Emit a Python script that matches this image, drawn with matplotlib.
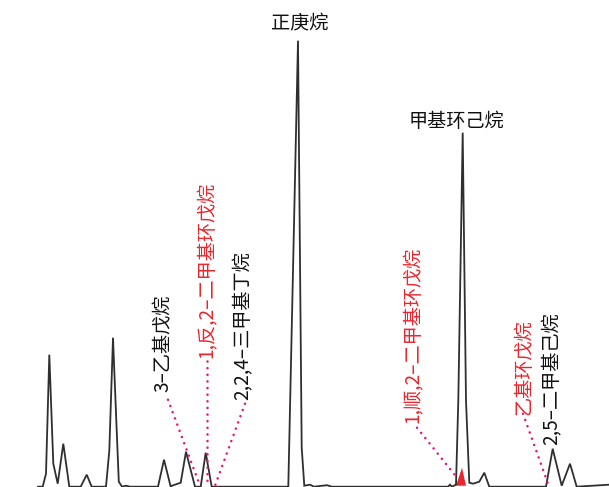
import matplotlib
matplotlib.use("Agg")
import matplotlib.pyplot as plt
import numpy as np

plt.rcParams['font.family'] = ['Noto Sans CJK SC', 'DejaVu Sans']

# Chromatogram trace: retention position and detector signal
rt = [38, 42.7, 46, 49.3, 53.3, 57.7, 63.3, 69.3, 80.7, 86.7, 91.7,
      106, 109.3, 113, 116.3, 118.8, 122, 126, 130,
      158, 164, 170.7, 172, 180.7, 186, 195, 200.7, 205.7, 211.7,
      288.3, 298, 301.7, 304.3, 310, 314, 327, 332,
      448, 450, 452, 456, 458.3, 462.7, 466, 469.3, 473, 479.3, 484.3, 489.3,
      546, 552.7, 561.7, 570, 576.7, 609]
signal = [0, 0, 13, 132, 23, 3, 43, 0, 0, 12, 0,
          0, 36, 149, 66, 5, 0, 1, 0,
          0, 27, 0, 1, 4, 35, 0, 0, 34, 0,
          0, 446, 39, 1, 2, 0, 1.5, 0,
          0, 2, 0, 2, 86, 354, 86, 4, 3, 5, 14, 0,
          0, 38, 1, 23, 0, 2]

# Peak hidden beneath methylcyclohexane
hidden_rt = [456, 462, 466]
hidden_signal = [1, 19, 1]

# Compound labels: text, label anchor (rt, signal), peak it points to, colour
labels = ["3–乙基戊烷", "1,反,2–二甲基环戊烷", "2,2,4–三甲基丁烷",
          "1,顺,2–二甲基环戊烷", "乙基环戊烷", "2,5–二甲基己烷"]
label_rt = [163, 207.5, 243, 413, 524, 552.5]
label_sig = [95, 129, 87, 64, 72, 42]
leader_start = [(168, 87), (207, 126), (245, 83), (417, 59), (523, 73), None]
leader_end = [(200, 1), (207, 4), (215, 1), (457, 9), (548, 3), None]
label_red = [False, True, False, True, True, False]

top_labels = ["正庚烷", "甲基环己烷"]
top_rt = [299.5, 456.7]
top_sig = [463, 365]

RED = "#e8262d"
DOT = "#e5127f"
INK = "#2f2f2f"

fig = plt.figure(figsize=(6.09, 4.87), dpi=100)
ax = fig.add_axes([0, 0, 1, 1])
ax.set_xlim(0, 609)
ax.set_ylim(-0.3, 486.7)
ax.axis('off')

ax.fill(hidden_rt, hidden_signal, color=RED, lw=0, zorder=2)
ax.plot(rt, signal, color=INK, lw=1.3, solid_joinstyle='miter', zorder=3)

for txt, x, y, s, e, red in zip(labels, label_rt, label_sig,
                                leader_start, leader_end, label_red):
    ax.text(x, y, txt, rotation=90, ha='center', va='bottom', fontsize=13.8,
            color=RED if red else '#111111')
    if s is not None:
        ax.plot([s[0], e[0]], [s[1], e[1]], color=DOT, lw=1.8,
                linestyle=(0, (0.05, 2.6)), dash_capstyle='round', zorder=4)

for txt, x, y in zip(top_labels, top_rt, top_sig):
    ax.text(x, y, txt, ha='center', va='center', fontsize=13.8, color='#111111')

fig.savefig("out.png", dpi=100)
